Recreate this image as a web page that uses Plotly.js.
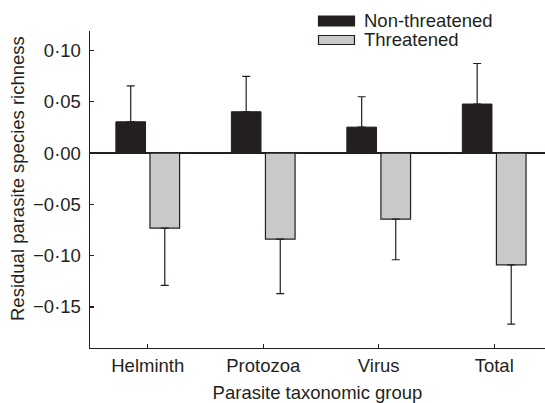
<!DOCTYPE html>
<html>
<head>
<meta charset="utf-8">
<script src="https://cdn.plot.ly/plotly-3.0.1.min.js"></script>
<style>html,body{margin:0;padding:0;background:#fff;}#chart{width:545px;height:403px;}</style>
</head>
<body>
<div id="chart"></div>
<script>
// ---- data ----
const categories = ["Helminth", "Protozoa", "Virus", "Total"];
const seriesNames = ["Non-threatened", "Threatened"];
const nonThreatened = [0.0305, 0.0403, 0.0253, 0.0478];
const nonThreatenedErr = [0.0351, 0.0344, 0.0296, 0.0395];
const threatened = [-0.0731, -0.0838, -0.0643, -0.1089];
const threatenedErr = [0.0559, 0.0532, 0.0397, 0.0578];
const yTickVals = [0.10, 0.05, 0.00, -0.05, -0.10, -0.15];
const yTickText = ["0\u00b710", "0\u00b705", "0\u00b700", "\u22120\u00b705", "\u22120\u00b710", "\u22120\u00b715"];
const xTitle = "Parasite taxonomic group";
const yTitle = "Residual parasite species richness";

// ---- style ----
const INK = "#231f20";
const DARK = "#231f20";
const GREY = "#c8c9ca";
const FONT = "Liberation Sans, Arial, Helvetica, sans-serif";
const FS = 18.5;
const W = 545, H = 403;
const M = {l: 90, r: 0, t: 31, b: 55};
const plotW = W - M.l - M.r, plotH = H - M.t - M.b;
const px2x = p => (p - M.l) / plotW;
const px2y = p => (H - M.b - p) / plotH;

const zeros = categories.map(() => 0);

const traces = [
  {
    type: "bar", name: seriesNames[0], x: categories, y: nonThreatened,
    marker: {color: DARK, line: {color: INK, width: 1}},
    error_y: {type: "data", symmetric: false, array: nonThreatenedErr, arrayminus: zeros,
              color: INK, thickness: 1.2, width: 4},
    showlegend: false, hoverinfo: "skip"
  },
  {
    type: "bar", name: seriesNames[1], x: categories, y: threatened,
    marker: {color: GREY, line: {color: INK, width: 1.2}},
    error_y: {type: "data", symmetric: false, array: zeros, arrayminus: threatenedErr,
              color: INK, thickness: 1.2, width: 4},
    showlegend: false, hoverinfo: "skip"
  }
];

// manual legend (layout decoration)
const legendRows = [
  {name: seriesNames[0], fill: DARK, top: 16, bottom: 26, textY: 21},
  {name: seriesNames[1], fill: GREY, top: 35.5, bottom: 44.5, textY: 39.5}
];
const shapes = [];
const annotations = [];
legendRows.forEach(r => {
  shapes.push({type: "rect", xref: "paper", yref: "paper",
    x0: px2x(318.5), x1: px2x(354.5), y0: px2y(r.bottom), y1: px2y(r.top),
    fillcolor: r.fill, line: {color: INK, width: 1.2}});
  annotations.push({xref: "paper", yref: "paper", x: px2x(362), y: px2y(r.textY),
    xanchor: "left", yanchor: "middle", showarrow: false, text: r.name,
    font: {family: FONT, size: FS, color: INK}});
});
// y-axis title placed as annotation
annotations.push({xref: "paper", yref: "paper", x: px2x(17.5), y: px2y(178.5),
  xanchor: "center", yanchor: "middle", textangle: -90, showarrow: false,
  text: yTitle, font: {family: FONT, size: FS, color: INK}});

const layout = {
  width: W, height: H,
  margin: M,
  paper_bgcolor: "#fff", plot_bgcolor: "#fff",
  font: {family: FONT, size: FS, color: INK},
  barmode: "group", bargap: 0.41, bargroupgap: 0.13,
  showlegend: false,
  xaxis: {
    type: "category", range: [-0.5, 3.44],
    showline: true, linecolor: INK, linewidth: 1.4,
    ticks: "inside", ticklen: 4, tickcolor: INK, tickwidth: 1.2,
    showgrid: false, zeroline: false,
    tickfont: {family: FONT, size: FS, color: INK},
    title: {text: xTitle, font: {family: FONT, size: FS, color: INK}, standoff: 12}
  },
  yaxis: {
    range: [-0.19, 0.119],
    tickvals: yTickVals, ticktext: yTickText,
    showline: true, linecolor: INK, linewidth: 1.4,
    ticks: "inside", ticklen: 4, tickcolor: INK, tickwidth: 1.2,
    showgrid: false,
    zeroline: true, zerolinecolor: INK, zerolinewidth: 1.3,
    tickfont: {family: FONT, size: FS, color: INK},
    ticklabelstandoff: 4
  },
  shapes: shapes,
  annotations: annotations
};

Plotly.newPlot("chart", traces, layout, {staticPlot: true, displayModeBar: false});
</script>
</body>
</html>
